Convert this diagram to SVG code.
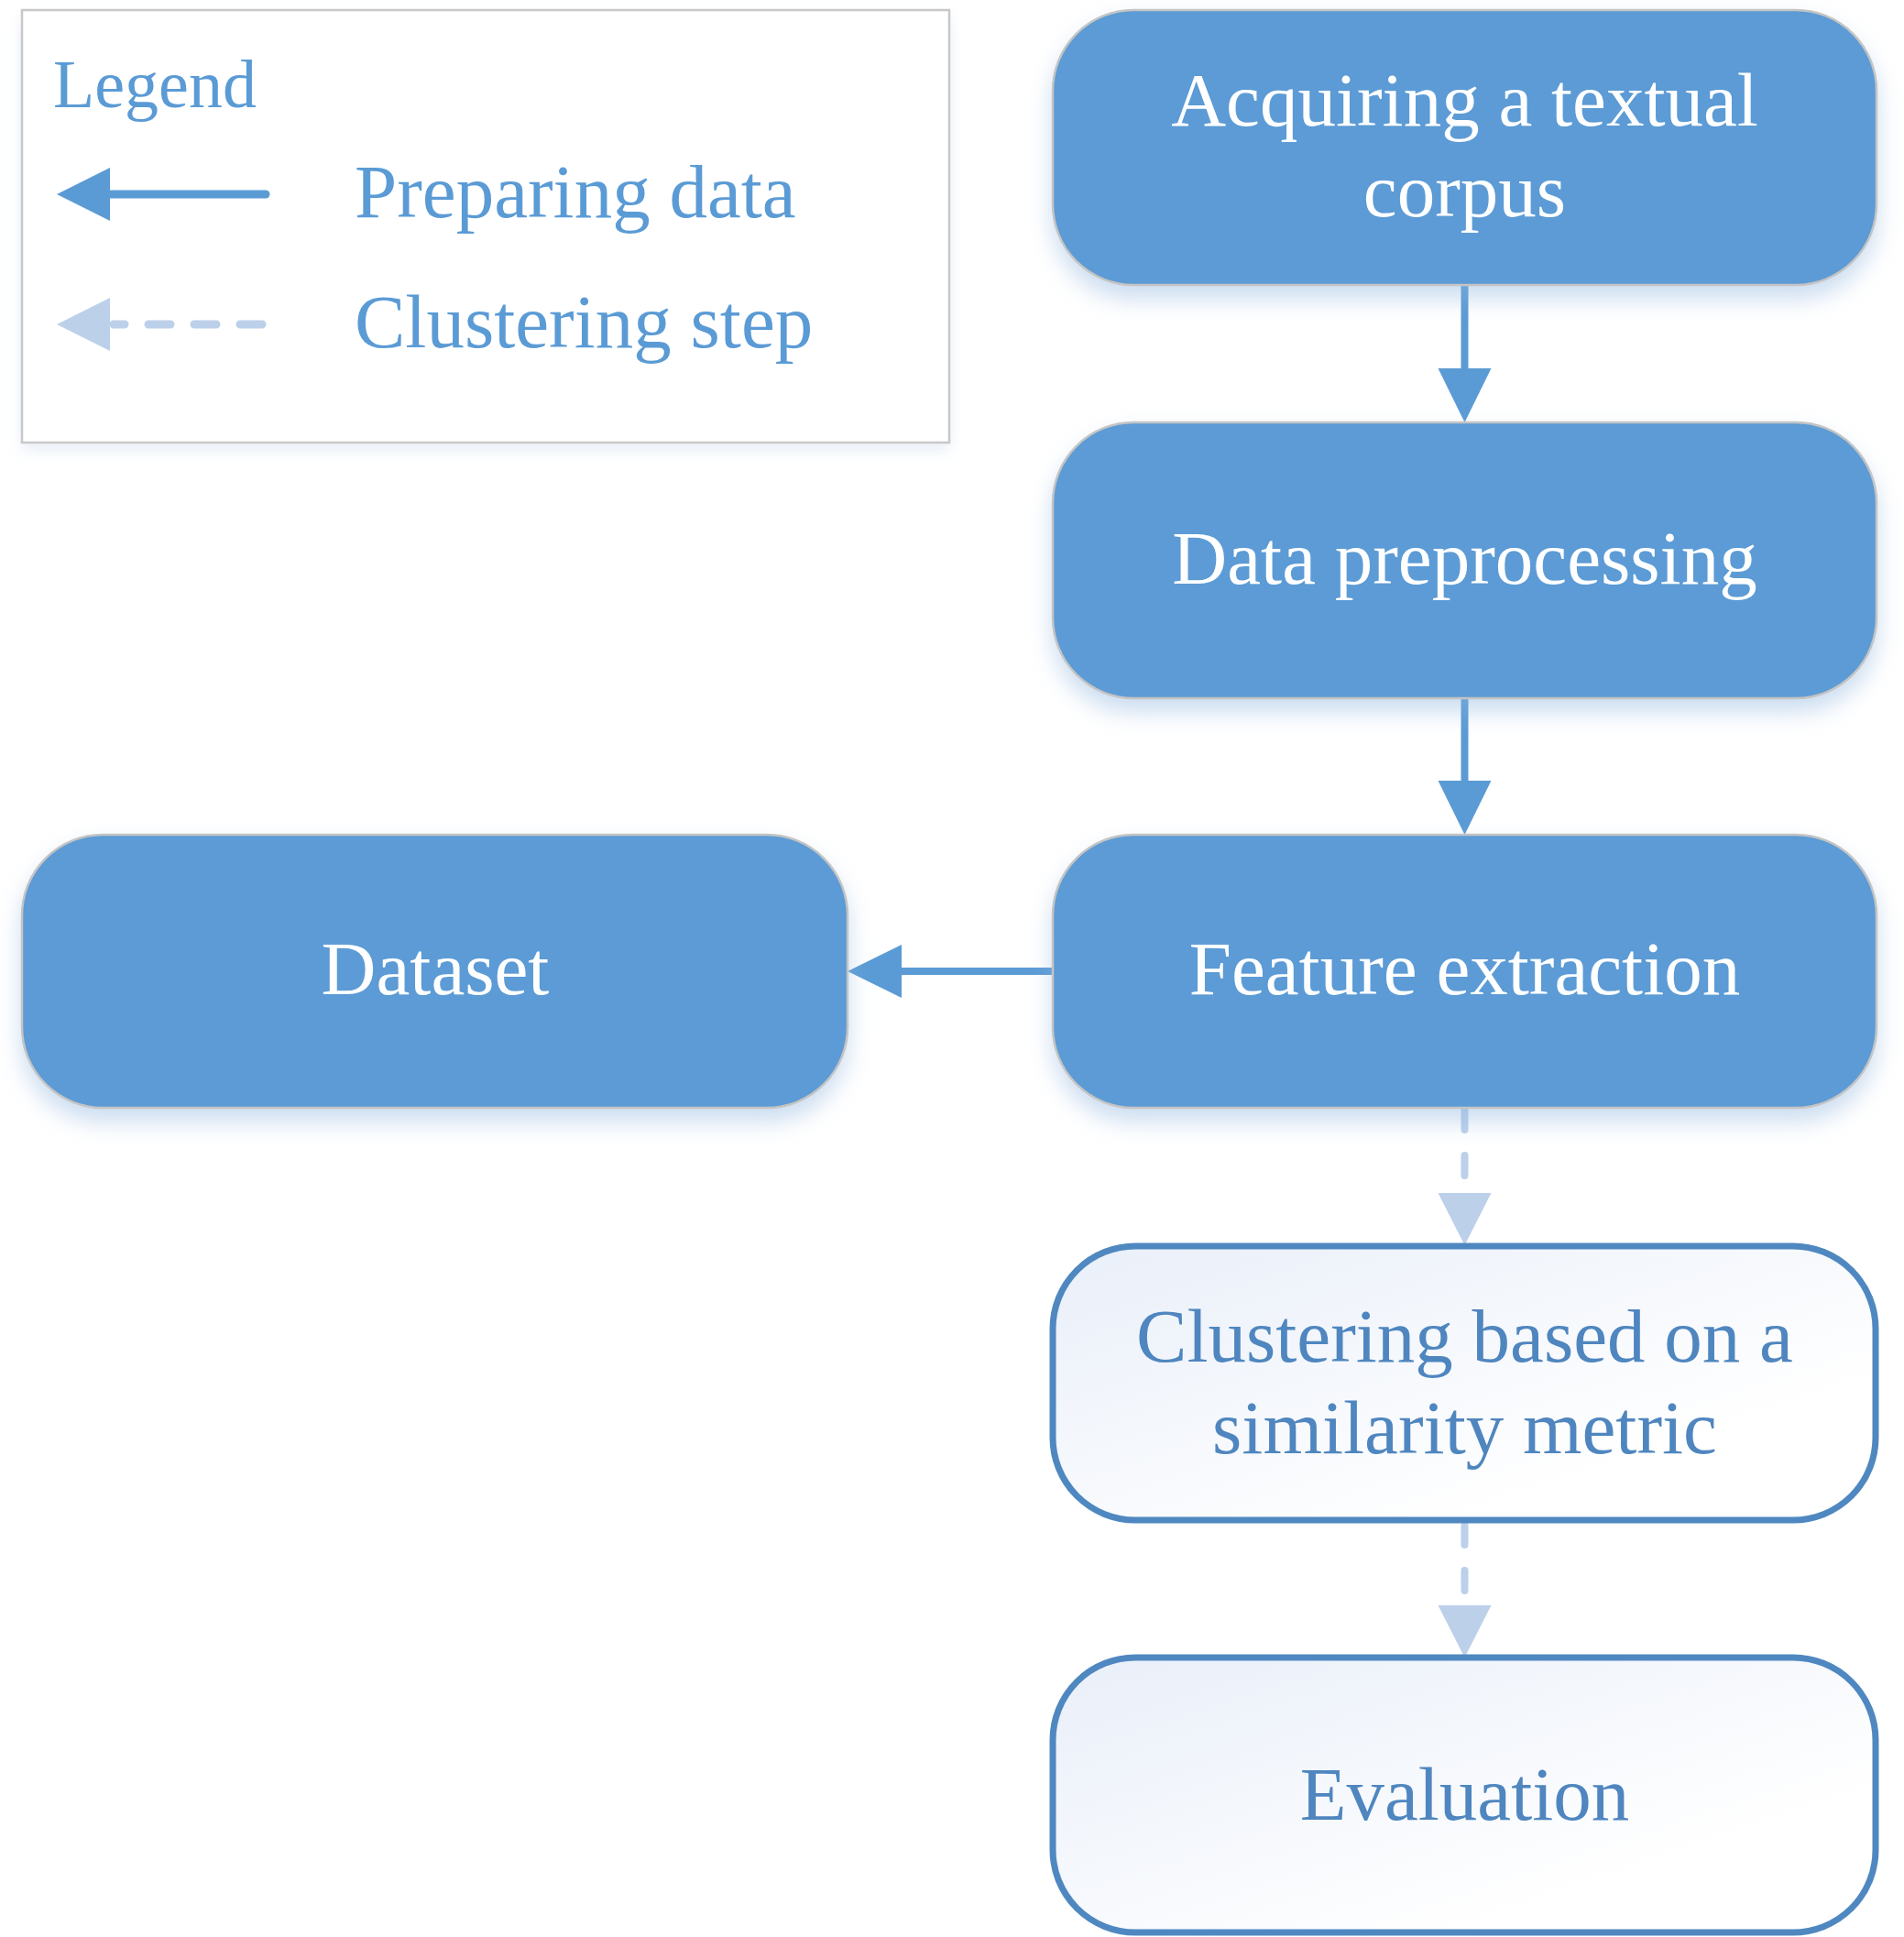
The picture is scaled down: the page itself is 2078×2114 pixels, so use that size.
<svg xmlns="http://www.w3.org/2000/svg" width="2078" height="2114" viewBox="0 0 2078 2114">
  <style>
    .t { font-family: "Liberation Serif", "Times New Roman", serif; font-size: 83px; }
    .w { fill: #FFFFFF; }
    .lb { fill: #5B9BD5; }
    .db { fill: #4F86BF; }
    .blue { fill: #5B9BD5; stroke: #C4C4C4; stroke-width: 2.5; }
    .light { fill: url(#lg); stroke: #4F88C0; stroke-width: 7; }
    .solid { stroke: #5B9BD5; stroke-width: 8; fill: none; }
    .dash { stroke: #BCD0EA; stroke-width: 8; fill: none; stroke-linecap: round; stroke-dasharray: 22 28; }
  </style>
  <defs>
    <linearGradient id="lg" x1="0" y1="0" x2="1" y2="1">
      <stop offset="0" stop-color="#E9EFF9"/>
      <stop offset="0.75" stop-color="#FFFFFF"/>
    </linearGradient>
    <filter id="sh" x="-10%" y="-10%" width="120%" height="130%">
      <feDropShadow dx="0" dy="14" stdDeviation="12" flood-color="#8DB3DE" flood-opacity="0.45"/>
    </filter>
    <filter id="shl" x="-10%" y="-10%" width="120%" height="130%">
      <feDropShadow dx="0" dy="8" stdDeviation="8" flood-color="#C9D9EE" flood-opacity="0.4"/>
    </filter>
  </defs>
  <rect width="2078" height="2114" fill="#FFFFFF"/>

  <g id="legend">
    <rect x="24" y="11" width="1012" height="472" fill="#FFFFFF" stroke="#C8C8C8" stroke-width="2.5" filter="url(#shl)"/>
    <text class="t lb" x="58" y="117" style="font-size:74px">Legend</text>
    <line x1="290" y1="212" x2="116" y2="212" stroke="#5B9BD5" stroke-width="9" stroke-linecap="round"/>
    <polygon points="120,183 120,241 62,212" fill="#5B9BD5"/>
    <path d="M286 354 L124 354" stroke="#BCD0EA" stroke-width="9" stroke-linecap="round" stroke-dasharray="24 26" fill="none"/>
    <polygon points="120,325 120,383 62,354" fill="#BCD0EA"/>
    <text class="t lb" x="387" y="237">Preparing data</text>
    <text class="t lb" x="387" y="379">Clustering step</text>
  </g>

  <g id="connectors">
    <line class="solid" x1="1598.5" y1="311" x2="1598.5" y2="404"/>
    <polygon points="1569.5,402 1627.5,402 1598.5,461" fill="#5B9BD5"/>
    <line class="solid" x1="1598.5" y1="762" x2="1598.5" y2="854"/>
    <polygon points="1569.5,852 1627.5,852 1598.5,911" fill="#5B9BD5"/>
    <line class="solid" x1="1149" y1="1060" x2="982" y2="1060"/>
    <polygon points="984,1031 984,1089 925,1060" fill="#5B9BD5"/>
    <path class="dash" d="M1598.5 1211 L1598.5 1300"/>
    <polygon points="1569.5,1302 1627.5,1302 1598.5,1359" fill="#BCD0EA"/>
    <path class="dash" d="M1598.5 1664 L1598.5 1750"/>
    <polygon points="1569.5,1752 1627.5,1752 1598.5,1809" fill="#BCD0EA"/>
  </g>

  <g id="n1">
    <rect class="blue" x="1149" y="11" width="899" height="300" rx="88" ry="88" filter="url(#sh)"/>
    <text class="t w" x="1598.5" y="137" text-anchor="middle">Acquiring a textual</text>
    <text class="t w" x="1598.5" y="236" text-anchor="middle">corpus</text>
  </g>

  <g id="n2">
    <rect class="blue" x="1149" y="461" width="899" height="301" rx="88" ry="88" filter="url(#sh)"/>
    <text class="t w" x="1598.5" y="637" text-anchor="middle">Data preprocessing</text>
  </g>

  <g id="n3">
    <rect class="blue" x="1149" y="911" width="899" height="298" rx="88" ry="88" filter="url(#sh)"/>
    <text class="t w" x="1598.5" y="1085" text-anchor="middle">Feature extraction</text>
  </g>

  <g id="n4">
    <rect class="blue" x="24" y="911" width="901" height="298" rx="88" ry="88" filter="url(#sh)"/>
    <text class="t w" x="475" y="1085" text-anchor="middle">Dataset</text>
  </g>

  <g id="n5">
    <rect class="light" x="1149" y="1360" width="898" height="299" rx="90" ry="90"/>
    <text class="t db" x="1598.5" y="1486" text-anchor="middle">Clustering based on a</text>
    <text class="t db" x="1598.5" y="1586" text-anchor="middle">similarity metric</text>
  </g>

  <g id="n6">
    <rect class="light" x="1149" y="1809" width="898" height="300" rx="90" ry="90"/>
    <text class="t db" x="1598.5" y="1986" text-anchor="middle">Evaluation</text>
  </g>
</svg>
